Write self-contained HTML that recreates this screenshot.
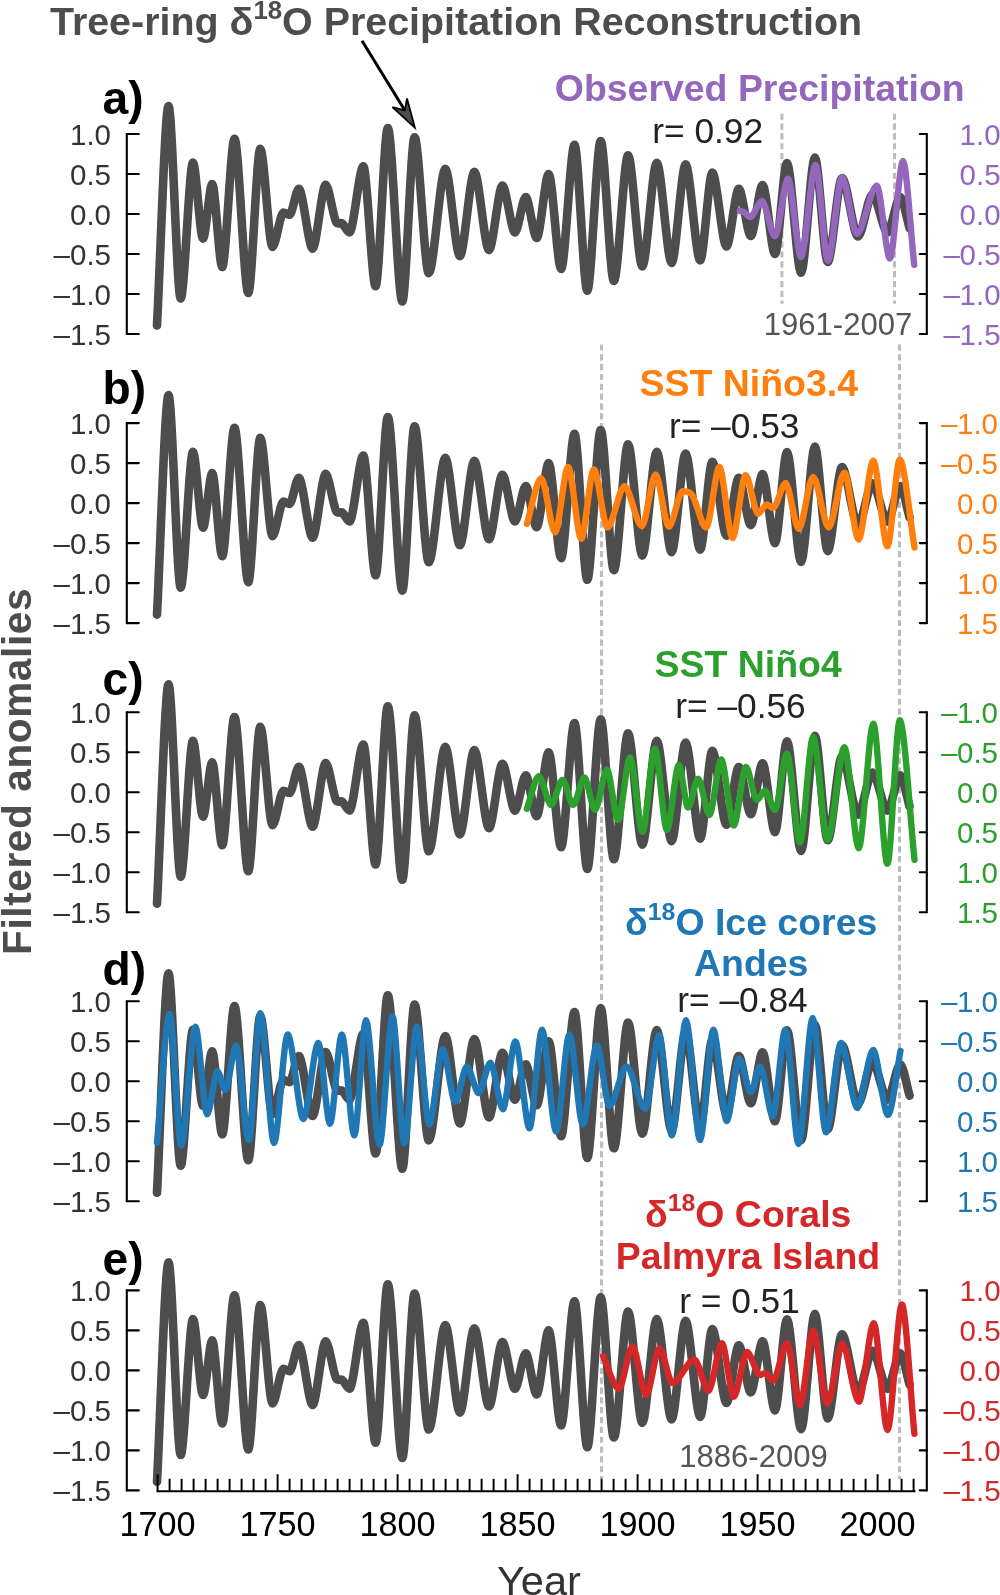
<!DOCTYPE html><html><head><meta charset="utf-8"><style>
html,body{margin:0;padding:0;background:#fff;width:1000px;height:1595px;overflow:hidden}
svg{display:block;will-change:transform}
text{font-family:"Liberation Sans", sans-serif}
</style></head><body>
<svg width="1000" height="1595" viewBox="0 0 1000 1595">
<rect width="1000" height="1595" fill="#fff"/>
<text x="50" y="35" font-size="39.4" font-weight="bold" fill="#4d4d4d">Tree-ring &#948;<tspan font-size="25.8" dy="-16.5">18</tspan><tspan dy="16.5">O Precipitation Reconstruction</tspan></text>
<line x1="362" y1="40.8" x2="404" y2="109" stroke="#000" stroke-width="3"/>
<path d="M414.8 127.6 L392.4 107.2 L404.8 110.4 L407 98.4 Z" fill="#4d4d4d" stroke="#000" stroke-width="1.8" stroke-linejoin="miter"/>
<path d="M126.8 134.0 V334.0" stroke="#000" stroke-width="2.1" stroke-linecap="round"/>
<path d="M126.8 134.0 H138.8" stroke="#000" stroke-width="2.1" stroke-linecap="round"/>
<path d="M126.8 174.0 H138.8" stroke="#000" stroke-width="2.1" stroke-linecap="round"/>
<path d="M126.8 214.0 H138.8" stroke="#000" stroke-width="2.1" stroke-linecap="round"/>
<path d="M126.8 254.0 H138.8" stroke="#000" stroke-width="2.1" stroke-linecap="round"/>
<path d="M126.8 294.0 H138.8" stroke="#000" stroke-width="2.1" stroke-linecap="round"/>
<path d="M126.8 334.0 H138.8" stroke="#000" stroke-width="2.1" stroke-linecap="round"/>
<text x="111" y="144.5" font-size="29.5" fill="#333" text-anchor="end">1.0</text>
<text x="111" y="184.5" font-size="29.5" fill="#333" text-anchor="end">0.5</text>
<text x="111" y="224.5" font-size="29.5" fill="#333" text-anchor="end">0.0</text>
<text x="111" y="264.5" font-size="29.5" fill="#333" text-anchor="end">–0.5</text>
<text x="111" y="304.5" font-size="29.5" fill="#333" text-anchor="end">–1.0</text>
<text x="111" y="344.5" font-size="29.5" fill="#333" text-anchor="end">–1.5</text>
<path d="M926.8 134.0 V334.0" stroke="#000" stroke-width="2.1" stroke-linecap="round"/>
<path d="M926.8 134.0 H919.8" stroke="#000" stroke-width="2.1" stroke-linecap="round"/>
<path d="M926.8 174.0 H919.8" stroke="#000" stroke-width="2.1" stroke-linecap="round"/>
<path d="M926.8 214.0 H919.8" stroke="#000" stroke-width="2.1" stroke-linecap="round"/>
<path d="M926.8 254.0 H919.8" stroke="#000" stroke-width="2.1" stroke-linecap="round"/>
<path d="M926.8 294.0 H919.8" stroke="#000" stroke-width="2.1" stroke-linecap="round"/>
<path d="M926.8 334.0 H919.8" stroke="#000" stroke-width="2.1" stroke-linecap="round"/>
<text x="959.6" y="144.5" font-size="29.5" fill="#9467bd">1.0</text>
<text x="959.6" y="184.5" font-size="29.5" fill="#9467bd">0.5</text>
<text x="959.6" y="224.5" font-size="29.5" fill="#9467bd">0.0</text>
<text x="943.6" y="264.5" font-size="29.5" fill="#9467bd">&#8211;</text>
<text x="959.6" y="264.5" font-size="29.5" fill="#9467bd">0.5</text>
<text x="943.6" y="304.5" font-size="29.5" fill="#9467bd">&#8211;</text>
<text x="959.6" y="304.5" font-size="29.5" fill="#9467bd">1.0</text>
<text x="943.6" y="344.5" font-size="29.5" fill="#9467bd">&#8211;</text>
<text x="959.6" y="344.5" font-size="29.5" fill="#9467bd">1.5</text>
<text x="102.6" y="114.4" font-size="46.2" font-weight="bold" fill="#000">a)</text>
<path d="M126.8 423.1 V623.1" stroke="#000" stroke-width="2.1" stroke-linecap="round"/>
<path d="M126.8 423.1 H138.8" stroke="#000" stroke-width="2.1" stroke-linecap="round"/>
<path d="M126.8 463.1 H138.8" stroke="#000" stroke-width="2.1" stroke-linecap="round"/>
<path d="M126.8 503.1 H138.8" stroke="#000" stroke-width="2.1" stroke-linecap="round"/>
<path d="M126.8 543.1 H138.8" stroke="#000" stroke-width="2.1" stroke-linecap="round"/>
<path d="M126.8 583.1 H138.8" stroke="#000" stroke-width="2.1" stroke-linecap="round"/>
<path d="M126.8 623.1 H138.8" stroke="#000" stroke-width="2.1" stroke-linecap="round"/>
<text x="111" y="433.6" font-size="29.5" fill="#333" text-anchor="end">1.0</text>
<text x="111" y="473.6" font-size="29.5" fill="#333" text-anchor="end">0.5</text>
<text x="111" y="513.6" font-size="29.5" fill="#333" text-anchor="end">0.0</text>
<text x="111" y="553.6" font-size="29.5" fill="#333" text-anchor="end">–0.5</text>
<text x="111" y="593.6" font-size="29.5" fill="#333" text-anchor="end">–1.0</text>
<text x="111" y="633.6" font-size="29.5" fill="#333" text-anchor="end">–1.5</text>
<path d="M926.8 423.1 V623.1" stroke="#000" stroke-width="2.1" stroke-linecap="round"/>
<path d="M926.8 423.1 H919.8" stroke="#000" stroke-width="2.1" stroke-linecap="round"/>
<path d="M926.8 463.1 H919.8" stroke="#000" stroke-width="2.1" stroke-linecap="round"/>
<path d="M926.8 503.1 H919.8" stroke="#000" stroke-width="2.1" stroke-linecap="round"/>
<path d="M926.8 543.1 H919.8" stroke="#000" stroke-width="2.1" stroke-linecap="round"/>
<path d="M926.8 583.1 H919.8" stroke="#000" stroke-width="2.1" stroke-linecap="round"/>
<path d="M926.8 623.1 H919.8" stroke="#000" stroke-width="2.1" stroke-linecap="round"/>
<text x="940.9" y="433.6" font-size="29.5" fill="#ff7f0e">&#8211;</text>
<text x="957.0" y="433.6" font-size="29.5" fill="#ff7f0e">1.0</text>
<text x="940.9" y="473.6" font-size="29.5" fill="#ff7f0e">&#8211;</text>
<text x="957.0" y="473.6" font-size="29.5" fill="#ff7f0e">0.5</text>
<text x="957.0" y="513.6" font-size="29.5" fill="#ff7f0e">0.0</text>
<text x="957.0" y="553.6" font-size="29.5" fill="#ff7f0e">0.5</text>
<text x="957.0" y="593.6" font-size="29.5" fill="#ff7f0e">1.0</text>
<text x="957.0" y="633.6" font-size="29.5" fill="#ff7f0e">1.5</text>
<text x="102.6" y="404.4" font-size="46.2" font-weight="bold" fill="#000">b)</text>
<path d="M126.8 712.2 V912.2" stroke="#000" stroke-width="2.1" stroke-linecap="round"/>
<path d="M126.8 712.2 H138.8" stroke="#000" stroke-width="2.1" stroke-linecap="round"/>
<path d="M126.8 752.2 H138.8" stroke="#000" stroke-width="2.1" stroke-linecap="round"/>
<path d="M126.8 792.2 H138.8" stroke="#000" stroke-width="2.1" stroke-linecap="round"/>
<path d="M126.8 832.2 H138.8" stroke="#000" stroke-width="2.1" stroke-linecap="round"/>
<path d="M126.8 872.2 H138.8" stroke="#000" stroke-width="2.1" stroke-linecap="round"/>
<path d="M126.8 912.2 H138.8" stroke="#000" stroke-width="2.1" stroke-linecap="round"/>
<text x="111" y="722.7" font-size="29.5" fill="#333" text-anchor="end">1.0</text>
<text x="111" y="762.7" font-size="29.5" fill="#333" text-anchor="end">0.5</text>
<text x="111" y="802.7" font-size="29.5" fill="#333" text-anchor="end">0.0</text>
<text x="111" y="842.7" font-size="29.5" fill="#333" text-anchor="end">–0.5</text>
<text x="111" y="882.7" font-size="29.5" fill="#333" text-anchor="end">–1.0</text>
<text x="111" y="922.7" font-size="29.5" fill="#333" text-anchor="end">–1.5</text>
<path d="M926.8 712.2 V912.2" stroke="#000" stroke-width="2.1" stroke-linecap="round"/>
<path d="M926.8 712.2 H919.8" stroke="#000" stroke-width="2.1" stroke-linecap="round"/>
<path d="M926.8 752.2 H919.8" stroke="#000" stroke-width="2.1" stroke-linecap="round"/>
<path d="M926.8 792.2 H919.8" stroke="#000" stroke-width="2.1" stroke-linecap="round"/>
<path d="M926.8 832.2 H919.8" stroke="#000" stroke-width="2.1" stroke-linecap="round"/>
<path d="M926.8 872.2 H919.8" stroke="#000" stroke-width="2.1" stroke-linecap="round"/>
<path d="M926.8 912.2 H919.8" stroke="#000" stroke-width="2.1" stroke-linecap="round"/>
<text x="940.9" y="722.7" font-size="29.5" fill="#2ca02c">&#8211;</text>
<text x="957.0" y="722.7" font-size="29.5" fill="#2ca02c">1.0</text>
<text x="940.9" y="762.7" font-size="29.5" fill="#2ca02c">&#8211;</text>
<text x="957.0" y="762.7" font-size="29.5" fill="#2ca02c">0.5</text>
<text x="957.0" y="802.7" font-size="29.5" fill="#2ca02c">0.0</text>
<text x="957.0" y="842.7" font-size="29.5" fill="#2ca02c">0.5</text>
<text x="957.0" y="882.7" font-size="29.5" fill="#2ca02c">1.0</text>
<text x="957.0" y="922.7" font-size="29.5" fill="#2ca02c">1.5</text>
<text x="102.6" y="694.9" font-size="46.2" font-weight="bold" fill="#000">c)</text>
<path d="M126.8 1001.3 V1201.3" stroke="#000" stroke-width="2.1" stroke-linecap="round"/>
<path d="M126.8 1001.3 H138.8" stroke="#000" stroke-width="2.1" stroke-linecap="round"/>
<path d="M126.8 1041.3 H138.8" stroke="#000" stroke-width="2.1" stroke-linecap="round"/>
<path d="M126.8 1081.3 H138.8" stroke="#000" stroke-width="2.1" stroke-linecap="round"/>
<path d="M126.8 1121.3 H138.8" stroke="#000" stroke-width="2.1" stroke-linecap="round"/>
<path d="M126.8 1161.3 H138.8" stroke="#000" stroke-width="2.1" stroke-linecap="round"/>
<path d="M126.8 1201.3 H138.8" stroke="#000" stroke-width="2.1" stroke-linecap="round"/>
<text x="111" y="1011.8" font-size="29.5" fill="#333" text-anchor="end">1.0</text>
<text x="111" y="1051.8" font-size="29.5" fill="#333" text-anchor="end">0.5</text>
<text x="111" y="1091.8" font-size="29.5" fill="#333" text-anchor="end">0.0</text>
<text x="111" y="1131.8" font-size="29.5" fill="#333" text-anchor="end">–0.5</text>
<text x="111" y="1171.8" font-size="29.5" fill="#333" text-anchor="end">–1.0</text>
<text x="111" y="1211.8" font-size="29.5" fill="#333" text-anchor="end">–1.5</text>
<path d="M926.8 1001.3 V1201.3" stroke="#000" stroke-width="2.1" stroke-linecap="round"/>
<path d="M926.8 1001.3 H919.8" stroke="#000" stroke-width="2.1" stroke-linecap="round"/>
<path d="M926.8 1041.3 H919.8" stroke="#000" stroke-width="2.1" stroke-linecap="round"/>
<path d="M926.8 1081.3 H919.8" stroke="#000" stroke-width="2.1" stroke-linecap="round"/>
<path d="M926.8 1121.3 H919.8" stroke="#000" stroke-width="2.1" stroke-linecap="round"/>
<path d="M926.8 1161.3 H919.8" stroke="#000" stroke-width="2.1" stroke-linecap="round"/>
<path d="M926.8 1201.3 H919.8" stroke="#000" stroke-width="2.1" stroke-linecap="round"/>
<text x="940.9" y="1011.8" font-size="29.5" fill="#1f77b4">&#8211;</text>
<text x="957.0" y="1011.8" font-size="29.5" fill="#1f77b4">1.0</text>
<text x="940.9" y="1051.8" font-size="29.5" fill="#1f77b4">&#8211;</text>
<text x="957.0" y="1051.8" font-size="29.5" fill="#1f77b4">0.5</text>
<text x="957.0" y="1091.8" font-size="29.5" fill="#1f77b4">0.0</text>
<text x="957.0" y="1131.8" font-size="29.5" fill="#1f77b4">0.5</text>
<text x="957.0" y="1171.8" font-size="29.5" fill="#1f77b4">1.0</text>
<text x="957.0" y="1211.8" font-size="29.5" fill="#1f77b4">1.5</text>
<text x="102.6" y="984.9" font-size="46.2" font-weight="bold" fill="#000">d)</text>
<path d="M126.8 1290.4 V1490.4" stroke="#000" stroke-width="2.1" stroke-linecap="round"/>
<path d="M126.8 1290.4 H138.8" stroke="#000" stroke-width="2.1" stroke-linecap="round"/>
<path d="M126.8 1330.4 H138.8" stroke="#000" stroke-width="2.1" stroke-linecap="round"/>
<path d="M126.8 1370.4 H138.8" stroke="#000" stroke-width="2.1" stroke-linecap="round"/>
<path d="M126.8 1410.4 H138.8" stroke="#000" stroke-width="2.1" stroke-linecap="round"/>
<path d="M126.8 1450.4 H138.8" stroke="#000" stroke-width="2.1" stroke-linecap="round"/>
<path d="M126.8 1490.4 H138.8" stroke="#000" stroke-width="2.1" stroke-linecap="round"/>
<text x="111" y="1300.9" font-size="29.5" fill="#333" text-anchor="end">1.0</text>
<text x="111" y="1340.9" font-size="29.5" fill="#333" text-anchor="end">0.5</text>
<text x="111" y="1380.9" font-size="29.5" fill="#333" text-anchor="end">0.0</text>
<text x="111" y="1420.9" font-size="29.5" fill="#333" text-anchor="end">–0.5</text>
<text x="111" y="1460.9" font-size="29.5" fill="#333" text-anchor="end">–1.0</text>
<text x="111" y="1500.9" font-size="29.5" fill="#333" text-anchor="end">–1.5</text>
<path d="M926.8 1290.4 V1490.4" stroke="#000" stroke-width="2.1" stroke-linecap="round"/>
<path d="M926.8 1290.4 H919.8" stroke="#000" stroke-width="2.1" stroke-linecap="round"/>
<path d="M926.8 1330.4 H919.8" stroke="#000" stroke-width="2.1" stroke-linecap="round"/>
<path d="M926.8 1370.4 H919.8" stroke="#000" stroke-width="2.1" stroke-linecap="round"/>
<path d="M926.8 1410.4 H919.8" stroke="#000" stroke-width="2.1" stroke-linecap="round"/>
<path d="M926.8 1450.4 H919.8" stroke="#000" stroke-width="2.1" stroke-linecap="round"/>
<path d="M926.8 1490.4 H919.8" stroke="#000" stroke-width="2.1" stroke-linecap="round"/>
<text x="959.6" y="1300.9" font-size="29.5" fill="#d62728">1.0</text>
<text x="959.6" y="1340.9" font-size="29.5" fill="#d62728">0.5</text>
<text x="959.6" y="1380.9" font-size="29.5" fill="#d62728">0.0</text>
<text x="943.6" y="1420.9" font-size="29.5" fill="#d62728">&#8211;</text>
<text x="959.6" y="1420.9" font-size="29.5" fill="#d62728">0.5</text>
<text x="943.6" y="1460.9" font-size="29.5" fill="#d62728">&#8211;</text>
<text x="959.6" y="1460.9" font-size="29.5" fill="#d62728">1.0</text>
<text x="943.6" y="1500.9" font-size="29.5" fill="#d62728">&#8211;</text>
<text x="959.6" y="1500.9" font-size="29.5" fill="#d62728">1.5</text>
<text x="102.6" y="1275.3" font-size="46.2" font-weight="bold" fill="#000">e)</text>
<path d="M781.9 113.65 V303.7" stroke="#bdbdbd" stroke-width="3.1" stroke-dasharray="6.2 3.64"/>
<path d="M894.5 113.65 V303.7" stroke="#bdbdbd" stroke-width="3.1" stroke-dasharray="6.2 3.64"/>
<path d="M601.5 344.4 V1479" stroke="#bdbdbd" stroke-width="3.1" stroke-dasharray="6.2 3.64"/>
<path d="M899.5 344.4 V1479" stroke="#bdbdbd" stroke-width="3.1" stroke-dasharray="6.2 3.64"/>
<text transform="translate(30.8,955) rotate(-90)" font-size="40.6" letter-spacing="0.6" font-weight="bold" fill="#4d4d4d">Filtered anomalies</text>
<path d="M157.0 325.5C160.4 259.6 165.1 106.0 168.5 106.0C172.2 106.0 177.0 298.5 180.7 298.5C184.4 298.5 189.3 162.6 193.0 162.6C196.0 162.6 200.0 238.6 203.0 238.6C205.8 238.6 209.4 184.0 212.2 184.0C215.2 184.0 219.2 267.0 222.2 267.0C225.9 267.0 230.8 138.8 234.5 138.8C238.6 138.8 244.2 293.0 248.3 293.0C251.9 293.0 256.7 148.7 260.3 148.7C264.0 148.7 268.8 247.0 272.5 247.0C275.8 247.0 280.1 212.5 283.4 212.5C285.3 212.5 287.7 214.8 289.6 214.8C292.4 214.8 296.0 188.7 298.8 188.7C302.9 188.7 308.5 248.6 312.6 248.6C316.5 248.6 321.8 184.8 325.7 184.8C328.9 184.8 333.2 217.9 336.4 222.5C338.0 224.8 340.2 222.5 341.8 223.2C344.1 224.2 347.2 232.4 349.5 232.4C353.6 232.4 359.2 166.4 363.3 166.4C367.0 166.4 371.9 286.2 375.6 286.2C379.3 286.2 384.1 128.0 387.8 128.0C392.2 128.0 397.9 301.5 402.3 301.5C406.0 301.5 410.9 137.2 414.6 137.2C418.9 137.2 424.5 273.1 428.8 273.1C433.8 273.1 440.4 168.7 445.3 168.7C449.7 168.7 455.5 256.2 459.9 256.2C464.2 256.2 470.0 171.8 474.4 171.8C478.8 171.8 484.6 250.1 489.0 250.1C493.0 250.1 498.4 185.6 502.4 185.6C506.2 185.6 511.2 232.4 515.0 232.4C518.2 232.4 522.5 197.0 525.7 197.0C529.0 197.0 533.4 238.0 536.7 238.0C540.3 238.0 545.1 174.0 548.7 174.0C552.4 174.0 557.4 269.0 561.1 269.0C565.1 269.0 570.5 144.8 574.5 144.8C578.3 144.8 583.5 290.7 587.3 290.7C591.3 290.7 596.7 141.0 600.7 141.0C604.7 141.0 609.9 281.0 613.9 281.0C618.2 281.0 623.8 155.2 628.1 155.2C632.4 155.2 638.0 266.5 642.3 266.5C646.6 266.5 652.4 162.7 656.8 162.7C661.2 162.7 667.2 263.0 671.6 263.0C675.8 263.0 681.4 164.4 685.6 164.4C690.0 164.4 695.8 260.5 700.2 260.5C703.8 260.5 708.7 172.6 712.3 172.6C716.6 172.6 722.2 246.5 726.5 246.5C730.2 246.5 735.1 188.8 738.8 188.8C742.4 188.8 747.2 236.0 750.8 236.0C754.3 236.0 759.1 185.0 762.6 185.0C766.3 185.0 771.3 254.0 775.0 254.0C778.6 254.0 783.4 163.0 787.0 163.0C791.2 163.0 796.9 272.8 801.1 272.8C805.2 272.8 810.8 157.5 814.9 157.5C818.7 157.5 823.9 262.0 827.7 262.0C832.0 262.0 837.7 178.0 842.0 178.0C846.8 178.0 853.2 236.5 858.0 236.5C862.4 236.5 868.1 194.3 872.5 194.3C877.0 194.3 883.0 232.5 887.5 232.5C891.3 232.5 896.4 197.0 900.2 197.0C903.0 197.0 906.8 218.9 909.6 228.3" fill="none" stroke="#4d4d4d" stroke-width="8.6" stroke-linejoin="round" stroke-linecap="round"/>
<path d="M157.0 614.6C160.4 548.8 165.1 395.1 168.5 395.1C172.2 395.1 177.0 587.6 180.7 587.6C184.4 587.6 189.3 451.7 193.0 451.7C196.0 451.7 200.0 527.7 203.0 527.7C205.8 527.7 209.4 473.1 212.2 473.1C215.2 473.1 219.2 556.1 222.2 556.1C225.9 556.1 230.8 427.9 234.5 427.9C238.6 427.9 244.2 582.1 248.3 582.1C251.9 582.1 256.7 437.8 260.3 437.8C264.0 437.8 268.8 536.1 272.5 536.1C275.8 536.1 280.1 501.6 283.4 501.6C285.3 501.6 287.7 503.9 289.6 503.9C292.4 503.9 296.0 477.8 298.8 477.8C302.9 477.8 308.5 537.7 312.6 537.7C316.5 537.7 321.8 473.9 325.7 473.9C328.9 473.9 333.2 507.0 336.4 511.6C338.0 513.9 340.2 511.6 341.8 512.3C344.1 513.3 347.2 521.5 349.5 521.5C353.6 521.5 359.2 455.5 363.3 455.5C367.0 455.5 371.9 575.3 375.6 575.3C379.3 575.3 384.1 417.1 387.8 417.1C392.2 417.1 397.9 590.6 402.3 590.6C406.0 590.6 410.9 426.3 414.6 426.3C418.9 426.3 424.5 562.2 428.8 562.2C433.8 562.2 440.4 457.8 445.3 457.8C449.7 457.8 455.5 545.3 459.9 545.3C464.2 545.3 470.0 460.9 474.4 460.9C478.8 460.9 484.6 539.2 489.0 539.2C493.0 539.2 498.4 474.7 502.4 474.7C506.2 474.7 511.2 521.5 515.0 521.5C518.2 521.5 522.5 486.1 525.7 486.1C529.0 486.1 533.4 527.1 536.7 527.1C540.3 527.1 545.1 463.1 548.7 463.1C552.4 463.1 557.4 558.1 561.1 558.1C565.1 558.1 570.5 433.9 574.5 433.9C578.3 433.9 583.5 579.8 587.3 579.8C591.3 579.8 596.7 430.1 600.7 430.1C604.7 430.1 609.9 570.1 613.9 570.1C618.2 570.1 623.8 444.3 628.1 444.3C632.4 444.3 638.0 555.6 642.3 555.6C646.6 555.6 652.4 451.8 656.8 451.8C661.2 451.8 667.2 552.1 671.6 552.1C675.8 552.1 681.4 453.5 685.6 453.5C690.0 453.5 695.8 549.6 700.2 549.6C703.8 549.6 708.7 461.7 712.3 461.7C716.6 461.7 722.2 535.6 726.5 535.6C730.2 535.6 735.1 477.9 738.8 477.9C742.4 477.9 747.2 525.1 750.8 525.1C754.3 525.1 759.1 474.1 762.6 474.1C766.3 474.1 771.3 543.1 775.0 543.1C778.6 543.1 783.4 452.1 787.0 452.1C791.2 452.1 796.9 561.9 801.1 561.9C805.2 561.9 810.8 446.6 814.9 446.6C818.7 446.6 823.9 551.1 827.7 551.1C832.0 551.1 837.7 467.1 842.0 467.1C846.8 467.1 853.2 525.6 858.0 525.6C862.4 525.6 868.1 483.4 872.5 483.4C877.0 483.4 883.0 521.6 887.5 521.6C891.3 521.6 896.4 486.1 900.2 486.1C903.0 486.1 906.8 508.0 909.6 517.4" fill="none" stroke="#4d4d4d" stroke-width="8.6" stroke-linejoin="round" stroke-linecap="round"/>
<path d="M157.0 903.7C160.4 837.9 165.1 684.2 168.5 684.2C172.2 684.2 177.0 876.7 180.7 876.7C184.4 876.7 189.3 740.8 193.0 740.8C196.0 740.8 200.0 816.8 203.0 816.8C205.8 816.8 209.4 762.2 212.2 762.2C215.2 762.2 219.2 845.2 222.2 845.2C225.9 845.2 230.8 717.0 234.5 717.0C238.6 717.0 244.2 871.2 248.3 871.2C251.9 871.2 256.7 726.9 260.3 726.9C264.0 726.9 268.8 825.2 272.5 825.2C275.8 825.2 280.1 790.7 283.4 790.7C285.3 790.7 287.7 793.0 289.6 793.0C292.4 793.0 296.0 766.9 298.8 766.9C302.9 766.9 308.5 826.8 312.6 826.8C316.5 826.8 321.8 763.0 325.7 763.0C328.9 763.0 333.2 796.1 336.4 800.7C338.0 803.0 340.2 800.7 341.8 801.4C344.1 802.4 347.2 810.6 349.5 810.6C353.6 810.6 359.2 744.6 363.3 744.6C367.0 744.6 371.9 864.4 375.6 864.4C379.3 864.4 384.1 706.2 387.8 706.2C392.2 706.2 397.9 879.7 402.3 879.7C406.0 879.7 410.9 715.4 414.6 715.4C418.9 715.4 424.5 851.3 428.8 851.3C433.8 851.3 440.4 746.9 445.3 746.9C449.7 746.9 455.5 834.4 459.9 834.4C464.2 834.4 470.0 750.0 474.4 750.0C478.8 750.0 484.6 828.3 489.0 828.3C493.0 828.3 498.4 763.8 502.4 763.8C506.2 763.8 511.2 810.6 515.0 810.6C518.2 810.6 522.5 775.2 525.7 775.2C529.0 775.2 533.4 816.2 536.7 816.2C540.3 816.2 545.1 752.2 548.7 752.2C552.4 752.2 557.4 847.2 561.1 847.2C565.1 847.2 570.5 723.0 574.5 723.0C578.3 723.0 583.5 868.9 587.3 868.9C591.3 868.9 596.7 719.2 600.7 719.2C604.7 719.2 609.9 859.2 613.9 859.2C618.2 859.2 623.8 733.4 628.1 733.4C632.4 733.4 638.0 844.7 642.3 844.7C646.6 844.7 652.4 740.9 656.8 740.9C661.2 740.9 667.2 841.2 671.6 841.2C675.8 841.2 681.4 742.6 685.6 742.6C690.0 742.6 695.8 838.7 700.2 838.7C703.8 838.7 708.7 750.8 712.3 750.8C716.6 750.8 722.2 824.7 726.5 824.7C730.2 824.7 735.1 767.0 738.8 767.0C742.4 767.0 747.2 814.2 750.8 814.2C754.3 814.2 759.1 763.2 762.6 763.2C766.3 763.2 771.3 832.2 775.0 832.2C778.6 832.2 783.4 741.2 787.0 741.2C791.2 741.2 796.9 851.0 801.1 851.0C805.2 851.0 810.8 735.7 814.9 735.7C818.7 735.7 823.9 840.2 827.7 840.2C832.0 840.2 837.7 756.2 842.0 756.2C846.8 756.2 853.2 814.7 858.0 814.7C862.4 814.7 868.1 772.5 872.5 772.5C877.0 772.5 883.0 810.7 887.5 810.7C891.3 810.7 896.4 775.2 900.2 775.2C903.0 775.2 906.8 797.1 909.6 806.5" fill="none" stroke="#4d4d4d" stroke-width="8.6" stroke-linejoin="round" stroke-linecap="round"/>
<path d="M157.0 1192.8C160.4 1127.0 165.1 973.3 168.5 973.3C172.2 973.3 177.0 1165.8 180.7 1165.8C184.4 1165.8 189.3 1029.9 193.0 1029.9C196.0 1029.9 200.0 1105.9 203.0 1105.9C205.8 1105.9 209.4 1051.3 212.2 1051.3C215.2 1051.3 219.2 1134.3 222.2 1134.3C225.9 1134.3 230.8 1006.1 234.5 1006.1C238.6 1006.1 244.2 1160.3 248.3 1160.3C251.9 1160.3 256.7 1016.0 260.3 1016.0C264.0 1016.0 268.8 1114.3 272.5 1114.3C275.8 1114.3 280.1 1079.8 283.4 1079.8C285.3 1079.8 287.7 1082.1 289.6 1082.1C292.4 1082.1 296.0 1056.0 298.8 1056.0C302.9 1056.0 308.5 1115.9 312.6 1115.9C316.5 1115.9 321.8 1052.1 325.7 1052.1C328.9 1052.1 333.2 1085.2 336.4 1089.8C338.0 1092.1 340.2 1089.8 341.8 1090.5C344.1 1091.5 347.2 1099.7 349.5 1099.7C353.6 1099.7 359.2 1033.7 363.3 1033.7C367.0 1033.7 371.9 1153.5 375.6 1153.5C379.3 1153.5 384.1 995.3 387.8 995.3C392.2 995.3 397.9 1168.8 402.3 1168.8C406.0 1168.8 410.9 1004.5 414.6 1004.5C418.9 1004.5 424.5 1140.4 428.8 1140.4C433.8 1140.4 440.4 1036.0 445.3 1036.0C449.7 1036.0 455.5 1123.5 459.9 1123.5C464.2 1123.5 470.0 1039.1 474.4 1039.1C478.8 1039.1 484.6 1117.4 489.0 1117.4C493.0 1117.4 498.4 1052.9 502.4 1052.9C506.2 1052.9 511.2 1099.7 515.0 1099.7C518.2 1099.7 522.5 1064.3 525.7 1064.3C529.0 1064.3 533.4 1105.3 536.7 1105.3C540.3 1105.3 545.1 1041.3 548.7 1041.3C552.4 1041.3 557.4 1136.3 561.1 1136.3C565.1 1136.3 570.5 1012.1 574.5 1012.1C578.3 1012.1 583.5 1158.0 587.3 1158.0C591.3 1158.0 596.7 1008.3 600.7 1008.3C604.7 1008.3 609.9 1148.3 613.9 1148.3C618.2 1148.3 623.8 1022.5 628.1 1022.5C632.4 1022.5 638.0 1133.8 642.3 1133.8C646.6 1133.8 652.4 1030.0 656.8 1030.0C661.2 1030.0 667.2 1130.3 671.6 1130.3C675.8 1130.3 681.4 1031.7 685.6 1031.7C690.0 1031.7 695.8 1127.8 700.2 1127.8C703.8 1127.8 708.7 1039.9 712.3 1039.9C716.6 1039.9 722.2 1113.8 726.5 1113.8C730.2 1113.8 735.1 1056.1 738.8 1056.1C742.4 1056.1 747.2 1103.3 750.8 1103.3C754.3 1103.3 759.1 1052.3 762.6 1052.3C766.3 1052.3 771.3 1121.3 775.0 1121.3C778.6 1121.3 783.4 1030.3 787.0 1030.3C791.2 1030.3 796.9 1140.1 801.1 1140.1C805.2 1140.1 810.8 1024.8 814.9 1024.8C818.7 1024.8 823.9 1129.3 827.7 1129.3C832.0 1129.3 837.7 1045.3 842.0 1045.3C846.8 1045.3 853.2 1103.8 858.0 1103.8C862.4 1103.8 868.1 1061.6 872.5 1061.6C877.0 1061.6 883.0 1099.8 887.5 1099.8C891.3 1099.8 896.4 1064.3 900.2 1064.3C903.0 1064.3 906.8 1086.2 909.6 1095.6" fill="none" stroke="#4d4d4d" stroke-width="8.6" stroke-linejoin="round" stroke-linecap="round"/>
<path d="M157.0 1481.9C160.4 1416.1 165.1 1262.4 168.5 1262.4C172.2 1262.4 177.0 1454.9 180.7 1454.9C184.4 1454.9 189.3 1319.0 193.0 1319.0C196.0 1319.0 200.0 1395.0 203.0 1395.0C205.8 1395.0 209.4 1340.4 212.2 1340.4C215.2 1340.4 219.2 1423.4 222.2 1423.4C225.9 1423.4 230.8 1295.2 234.5 1295.2C238.6 1295.2 244.2 1449.4 248.3 1449.4C251.9 1449.4 256.7 1305.1 260.3 1305.1C264.0 1305.1 268.8 1403.4 272.5 1403.4C275.8 1403.4 280.1 1368.9 283.4 1368.9C285.3 1368.9 287.7 1371.2 289.6 1371.2C292.4 1371.2 296.0 1345.1 298.8 1345.1C302.9 1345.1 308.5 1405.0 312.6 1405.0C316.5 1405.0 321.8 1341.2 325.7 1341.2C328.9 1341.2 333.2 1374.3 336.4 1378.9C338.0 1381.2 340.2 1378.9 341.8 1379.6C344.1 1380.6 347.2 1388.8 349.5 1388.8C353.6 1388.8 359.2 1322.8 363.3 1322.8C367.0 1322.8 371.9 1442.6 375.6 1442.6C379.3 1442.6 384.1 1284.4 387.8 1284.4C392.2 1284.4 397.9 1457.9 402.3 1457.9C406.0 1457.9 410.9 1293.6 414.6 1293.6C418.9 1293.6 424.5 1429.5 428.8 1429.5C433.8 1429.5 440.4 1325.1 445.3 1325.1C449.7 1325.1 455.5 1412.6 459.9 1412.6C464.2 1412.6 470.0 1328.2 474.4 1328.2C478.8 1328.2 484.6 1406.5 489.0 1406.5C493.0 1406.5 498.4 1342.0 502.4 1342.0C506.2 1342.0 511.2 1388.8 515.0 1388.8C518.2 1388.8 522.5 1353.4 525.7 1353.4C529.0 1353.4 533.4 1394.4 536.7 1394.4C540.3 1394.4 545.1 1330.4 548.7 1330.4C552.4 1330.4 557.4 1425.4 561.1 1425.4C565.1 1425.4 570.5 1301.2 574.5 1301.2C578.3 1301.2 583.5 1447.1 587.3 1447.1C591.3 1447.1 596.7 1297.4 600.7 1297.4C604.7 1297.4 609.9 1437.4 613.9 1437.4C618.2 1437.4 623.8 1311.6 628.1 1311.6C632.4 1311.6 638.0 1422.9 642.3 1422.9C646.6 1422.9 652.4 1319.1 656.8 1319.1C661.2 1319.1 667.2 1419.4 671.6 1419.4C675.8 1419.4 681.4 1320.8 685.6 1320.8C690.0 1320.8 695.8 1416.9 700.2 1416.9C703.8 1416.9 708.7 1329.0 712.3 1329.0C716.6 1329.0 722.2 1402.9 726.5 1402.9C730.2 1402.9 735.1 1345.2 738.8 1345.2C742.4 1345.2 747.2 1392.4 750.8 1392.4C754.3 1392.4 759.1 1341.4 762.6 1341.4C766.3 1341.4 771.3 1410.4 775.0 1410.4C778.6 1410.4 783.4 1319.4 787.0 1319.4C791.2 1319.4 796.9 1429.2 801.1 1429.2C805.2 1429.2 810.8 1313.9 814.9 1313.9C818.7 1313.9 823.9 1418.4 827.7 1418.4C832.0 1418.4 837.7 1334.4 842.0 1334.4C846.8 1334.4 853.2 1392.9 858.0 1392.9C862.4 1392.9 868.1 1350.7 872.5 1350.7C877.0 1350.7 883.0 1388.9 887.5 1388.9C891.3 1388.9 896.4 1353.4 900.2 1353.4C903.0 1353.4 906.8 1375.3 909.6 1384.7" fill="none" stroke="#4d4d4d" stroke-width="8.6" stroke-linejoin="round" stroke-linecap="round"/>
<path d="M739.6 210.9C740.7 211.1 742.3 211.3 743.4 211.7C745.5 212.4 748.2 217.1 750.3 217.1C753.8 217.1 758.4 201.0 761.9 201.0C765.8 201.0 771.0 236.3 774.9 236.3C778.8 236.3 784.1 178.7 788.0 178.7C791.9 178.7 797.1 257.0 801.0 257.0C805.4 257.0 811.2 164.9 815.6 164.9C819.3 164.9 824.2 260.8 827.9 260.8C832.1 260.8 837.8 177.2 842.0 177.2C846.5 177.2 852.4 234.0 856.9 234.0C862.9 234.0 870.8 185.6 876.8 185.6C880.7 185.6 886.0 258.5 889.9 258.5C893.8 258.5 899.1 161.0 903.0 161.0C906.4 161.0 910.8 233.6 914.2 264.7" fill="none" stroke="#9467bd" stroke-width="6.4" stroke-linejoin="round" stroke-linecap="round"/>
<path d="M526.9 523.8C531.2 510.1 536.9 478.1 541.2 478.1C545.4 478.1 550.9 532.5 555.0 532.5C558.9 532.5 564.2 466.9 568.1 466.9C572.0 466.9 577.3 538.8 581.2 538.8C585.0 538.8 590.0 469.4 593.8 469.4C597.9 469.4 603.4 527.5 607.5 527.5C612.6 527.5 619.3 486.2 624.4 486.2C629.6 486.2 636.6 526.2 641.9 526.2C646.0 526.2 651.5 474.4 655.6 474.4C659.5 474.4 664.8 526.9 668.8 526.9C672.9 526.9 678.4 491.2 682.5 491.2C685.1 491.2 688.6 491.3 691.2 493.8C695.8 497.9 701.8 527.5 706.2 527.5C710.2 527.5 715.5 466.9 719.4 466.9C723.3 466.9 728.6 538.1 732.5 538.1C736.4 538.1 741.7 475.3 745.6 475.3C749.4 475.3 754.4 513.8 758.1 513.8C760.7 513.8 764.3 504.4 766.9 504.4C768.8 504.4 771.2 508.1 773.1 508.1C776.9 508.1 781.9 483.1 785.6 483.1C789.5 483.1 794.8 528.8 798.8 528.8C803.1 528.8 808.8 476.9 813.1 476.9C817.8 476.9 824.1 527.5 828.8 527.5C833.4 527.5 839.7 472.7 844.4 472.7C848.7 472.7 854.3 539.5 858.6 539.5C863.0 539.5 868.9 460.6 873.3 460.6C877.5 460.6 883.2 546.4 887.4 546.4C891.1 546.4 896.1 459.5 899.8 459.5C904.2 459.5 910.1 521.1 914.5 547.5" fill="none" stroke="#ff7f0e" stroke-width="6.4" stroke-linejoin="round" stroke-linecap="round"/>
<path d="M526.9 808.8C530.5 799.0 535.2 776.2 538.8 776.2C542.5 776.2 547.5 805.0 551.2 805.0C554.6 805.0 559.1 780.0 562.5 780.0C565.7 780.0 569.9 805.0 573.1 805.0C576.5 805.0 581.0 777.5 584.4 777.5C587.6 777.5 591.8 810.0 595.0 810.0C598.6 810.0 603.3 769.4 606.9 769.4C610.3 769.4 614.7 820.0 618.1 820.0C621.7 820.0 626.4 757.5 630.0 757.5C633.8 757.5 638.8 831.9 642.5 831.9C646.2 831.9 651.2 748.8 655.0 748.8C658.6 748.8 663.3 830.0 666.9 830.0C670.5 830.0 675.2 765.0 678.8 765.0C681.6 765.0 685.3 807.5 688.1 807.5C691.1 807.5 695.1 778.8 698.1 778.8C701.5 778.8 706.0 815.0 709.4 815.0C713.0 815.0 717.7 759.4 721.2 759.4C725.0 759.4 730.0 825.6 733.8 825.6C737.4 825.6 742.3 767.0 746.0 767.0C749.3 767.0 753.6 800.0 756.9 800.0C759.3 800.0 762.6 790.6 765.0 790.6C768.0 790.6 772.0 810.0 775.0 810.0C778.6 810.0 783.3 753.8 786.9 753.8C790.8 753.8 796.1 842.5 800.0 842.5C803.9 842.5 809.2 736.9 813.1 736.9C817.4 736.9 823.2 840.0 827.5 840.0C832.6 840.0 839.3 747.2 844.4 747.2C848.7 747.2 854.4 848.3 858.7 848.3C863.1 848.3 868.9 723.7 873.3 723.7C877.5 723.7 883.2 863.7 887.4 863.7C891.1 863.7 896.1 720.3 899.8 720.3C904.2 720.3 910.1 817.9 914.5 859.7" fill="none" stroke="#2ca02c" stroke-width="6.4" stroke-linejoin="round" stroke-linecap="round"/>
<path d="M157.0 1142.5C160.8 1104.0 165.8 1014.0 169.6 1014.0C173.1 1014.0 177.8 1145.6 181.3 1145.6C185.5 1145.6 191.2 1026.6 195.4 1026.6C198.9 1026.6 203.7 1114.3 207.2 1114.3C210.3 1114.3 214.3 1071.2 217.4 1071.2C219.7 1071.2 222.9 1090.0 225.2 1090.0C228.5 1090.0 232.9 1045.4 236.2 1045.4C239.9 1045.4 244.9 1140.1 248.7 1140.1C252.2 1140.1 256.9 1013.3 260.4 1013.3C264.5 1013.3 269.9 1143.0 274.0 1143.0C278.1 1143.0 283.6 1034.4 287.7 1034.4C292.4 1034.4 298.7 1119.0 303.4 1119.0C307.9 1119.0 313.8 1043.0 318.3 1043.0C321.8 1043.0 326.5 1123.7 330.0 1123.7C333.5 1123.7 338.3 1034.4 341.8 1034.4C345.6 1034.4 350.6 1135.4 354.3 1135.4C357.8 1135.4 362.5 1020.3 366.0 1020.3C370.1 1020.3 375.4 1144.8 379.5 1144.8C383.4 1144.8 388.6 1016.4 392.5 1016.4C396.0 1016.4 400.8 1143.3 404.3 1143.3C408.1 1143.3 413.1 1026.6 416.8 1026.6C420.6 1026.6 425.6 1124.5 429.3 1124.5C433.3 1124.5 438.7 1049.3 442.7 1049.3C446.4 1049.3 451.4 1101.8 455.2 1101.8C458.7 1101.8 463.4 1066.5 466.9 1066.5C470.4 1066.5 475.2 1093.1 478.7 1093.1C482.2 1093.1 486.9 1062.6 490.4 1062.6C494.1 1062.6 499.1 1109.2 502.9 1109.2C506.6 1109.2 511.6 1041.5 515.4 1041.5C519.6 1041.5 525.3 1128.4 529.5 1128.4C533.2 1128.4 538.2 1029.7 542.0 1029.7C546.2 1029.7 551.9 1131.5 556.1 1131.5C560.1 1131.5 565.4 1034.4 569.4 1034.4C573.4 1034.4 578.7 1124.5 582.7 1124.5C586.9 1124.5 592.6 1045.4 596.8 1045.4C600.6 1045.4 605.7 1106.0 609.5 1106.0C614.6 1106.0 621.3 1066.5 626.4 1066.5C632.0 1066.5 639.6 1108.8 645.2 1108.8C649.4 1108.8 655.1 1035.2 659.3 1035.2C663.1 1035.2 668.1 1135.4 671.9 1135.4C676.1 1135.4 681.8 1020.3 686.0 1020.3C690.2 1020.3 695.8 1140.1 700.0 1140.1C704.0 1140.1 709.4 1029.7 713.4 1029.7C717.4 1029.7 722.7 1121.0 726.7 1121.0C730.4 1121.0 735.4 1058.7 739.1 1058.7C742.6 1058.7 747.3 1092.4 750.8 1092.4C753.6 1092.4 757.4 1066.5 760.2 1066.5C764.0 1066.5 769.0 1116.6 772.8 1116.6C776.5 1116.6 781.5 1029.7 785.3 1029.7C789.3 1029.7 794.6 1144.0 798.6 1144.0C802.8 1144.0 808.5 1018.0 812.7 1018.0C816.7 1018.0 822.0 1132.3 826.0 1132.3C830.5 1132.3 836.5 1043.0 841.0 1043.0C845.9 1043.0 852.5 1108.0 857.4 1108.0C862.1 1108.0 868.4 1050.0 873.1 1050.0C877.6 1050.0 883.5 1115.0 888.0 1115.0C891.8 1115.0 896.8 1070.1 900.5 1050.9" fill="none" stroke="#1f77b4" stroke-width="6.4" stroke-linejoin="round" stroke-linecap="round"/>
<path d="M603.1 1356.2C607.8 1366.0 614.1 1388.8 618.8 1388.8C622.9 1388.8 628.4 1346.2 632.5 1346.2C636.6 1346.2 642.1 1395.0 646.2 1395.0C650.2 1395.0 655.5 1348.1 659.4 1348.1C663.3 1348.1 668.6 1383.1 672.5 1383.1C679.1 1383.1 687.8 1359.4 694.4 1359.4C698.6 1359.4 704.3 1391.0 708.5 1391.0C712.5 1391.0 717.9 1343.1 721.9 1343.1C725.5 1343.1 730.2 1396.9 733.8 1396.9C737.7 1396.9 743.0 1351.9 746.9 1351.9C750.8 1351.9 756.1 1375.0 760.0 1375.0C761.5 1375.0 763.5 1373.1 765.0 1373.1C767.4 1373.1 770.7 1380.6 773.1 1380.6C777.2 1380.6 782.8 1343.1 786.9 1343.1C790.8 1343.1 796.1 1405.0 800.0 1405.0C803.9 1405.0 809.2 1330.6 813.1 1330.6C817.3 1330.6 823.0 1403.5 827.2 1403.5C831.8 1403.5 837.9 1343.8 842.5 1343.8C847.4 1343.8 853.9 1401.9 858.8 1401.9C863.2 1401.9 869.2 1323.1 873.8 1323.1C877.9 1323.1 883.4 1430.0 887.5 1430.0C891.8 1430.0 897.6 1304.4 901.9 1304.4C905.6 1304.4 910.6 1394.9 914.4 1433.8" fill="none" stroke="#d62728" stroke-width="6.4" stroke-linejoin="round" stroke-linecap="round"/>
<path d="M156.5 1491.3 H915.5" stroke="#000" stroke-width="2"/>
<path d="M157.6 1491.3 V1474.3" stroke="#000" stroke-width="2"/>
<path d="M169.6 1491.3 V1478.8" stroke="#000" stroke-width="2"/>
<path d="M181.6 1491.3 V1478.8" stroke="#000" stroke-width="2"/>
<path d="M193.6 1491.3 V1478.8" stroke="#000" stroke-width="2"/>
<path d="M205.6 1491.3 V1478.8" stroke="#000" stroke-width="2"/>
<path d="M217.6 1491.3 V1478.8" stroke="#000" stroke-width="2"/>
<path d="M229.6 1491.3 V1478.8" stroke="#000" stroke-width="2"/>
<path d="M241.6 1491.3 V1478.8" stroke="#000" stroke-width="2"/>
<path d="M253.6 1491.3 V1478.8" stroke="#000" stroke-width="2"/>
<path d="M265.6 1491.3 V1478.8" stroke="#000" stroke-width="2"/>
<path d="M277.6 1491.3 V1474.3" stroke="#000" stroke-width="2"/>
<path d="M289.6 1491.3 V1478.8" stroke="#000" stroke-width="2"/>
<path d="M301.6 1491.3 V1478.8" stroke="#000" stroke-width="2"/>
<path d="M313.6 1491.3 V1478.8" stroke="#000" stroke-width="2"/>
<path d="M325.6 1491.3 V1478.8" stroke="#000" stroke-width="2"/>
<path d="M337.6 1491.3 V1478.8" stroke="#000" stroke-width="2"/>
<path d="M349.6 1491.3 V1478.8" stroke="#000" stroke-width="2"/>
<path d="M361.6 1491.3 V1478.8" stroke="#000" stroke-width="2"/>
<path d="M373.6 1491.3 V1478.8" stroke="#000" stroke-width="2"/>
<path d="M385.6 1491.3 V1478.8" stroke="#000" stroke-width="2"/>
<path d="M397.6 1491.3 V1474.3" stroke="#000" stroke-width="2"/>
<path d="M409.6 1491.3 V1478.8" stroke="#000" stroke-width="2"/>
<path d="M421.6 1491.3 V1478.8" stroke="#000" stroke-width="2"/>
<path d="M433.6 1491.3 V1478.8" stroke="#000" stroke-width="2"/>
<path d="M445.6 1491.3 V1478.8" stroke="#000" stroke-width="2"/>
<path d="M457.6 1491.3 V1478.8" stroke="#000" stroke-width="2"/>
<path d="M469.6 1491.3 V1478.8" stroke="#000" stroke-width="2"/>
<path d="M481.6 1491.3 V1478.8" stroke="#000" stroke-width="2"/>
<path d="M493.6 1491.3 V1478.8" stroke="#000" stroke-width="2"/>
<path d="M505.6 1491.3 V1478.8" stroke="#000" stroke-width="2"/>
<path d="M517.6 1491.3 V1474.3" stroke="#000" stroke-width="2"/>
<path d="M529.6 1491.3 V1478.8" stroke="#000" stroke-width="2"/>
<path d="M541.6 1491.3 V1478.8" stroke="#000" stroke-width="2"/>
<path d="M553.6 1491.3 V1478.8" stroke="#000" stroke-width="2"/>
<path d="M565.6 1491.3 V1478.8" stroke="#000" stroke-width="2"/>
<path d="M577.6 1491.3 V1478.8" stroke="#000" stroke-width="2"/>
<path d="M589.6 1491.3 V1478.8" stroke="#000" stroke-width="2"/>
<path d="M601.6 1491.3 V1478.8" stroke="#000" stroke-width="2"/>
<path d="M613.6 1491.3 V1478.8" stroke="#000" stroke-width="2"/>
<path d="M625.6 1491.3 V1478.8" stroke="#000" stroke-width="2"/>
<path d="M637.6 1491.3 V1474.3" stroke="#000" stroke-width="2"/>
<path d="M649.6 1491.3 V1478.8" stroke="#000" stroke-width="2"/>
<path d="M661.6 1491.3 V1478.8" stroke="#000" stroke-width="2"/>
<path d="M673.6 1491.3 V1478.8" stroke="#000" stroke-width="2"/>
<path d="M685.6 1491.3 V1478.8" stroke="#000" stroke-width="2"/>
<path d="M697.6 1491.3 V1478.8" stroke="#000" stroke-width="2"/>
<path d="M709.6 1491.3 V1478.8" stroke="#000" stroke-width="2"/>
<path d="M721.6 1491.3 V1478.8" stroke="#000" stroke-width="2"/>
<path d="M733.6 1491.3 V1478.8" stroke="#000" stroke-width="2"/>
<path d="M745.6 1491.3 V1478.8" stroke="#000" stroke-width="2"/>
<path d="M757.6 1491.3 V1474.3" stroke="#000" stroke-width="2"/>
<path d="M769.6 1491.3 V1478.8" stroke="#000" stroke-width="2"/>
<path d="M781.6 1491.3 V1478.8" stroke="#000" stroke-width="2"/>
<path d="M793.6 1491.3 V1478.8" stroke="#000" stroke-width="2"/>
<path d="M805.6 1491.3 V1478.8" stroke="#000" stroke-width="2"/>
<path d="M817.6 1491.3 V1478.8" stroke="#000" stroke-width="2"/>
<path d="M829.6 1491.3 V1478.8" stroke="#000" stroke-width="2"/>
<path d="M841.6 1491.3 V1478.8" stroke="#000" stroke-width="2"/>
<path d="M853.6 1491.3 V1478.8" stroke="#000" stroke-width="2"/>
<path d="M865.6 1491.3 V1478.8" stroke="#000" stroke-width="2"/>
<path d="M877.6 1491.3 V1474.3" stroke="#000" stroke-width="2"/>
<path d="M889.6 1491.3 V1478.8" stroke="#000" stroke-width="2"/>
<path d="M901.6 1491.3 V1478.8" stroke="#000" stroke-width="2"/>
<path d="M913.6 1491.3 V1478.8" stroke="#000" stroke-width="2"/>
<text x="157.6" y="1536" font-size="34.2" fill="#000" text-anchor="middle">1700</text>
<text x="277.6" y="1536" font-size="34.2" fill="#000" text-anchor="middle">1750</text>
<text x="397.6" y="1536" font-size="34.2" fill="#000" text-anchor="middle">1800</text>
<text x="517.6" y="1536" font-size="34.2" fill="#000" text-anchor="middle">1850</text>
<text x="637.6" y="1536" font-size="34.2" fill="#000" text-anchor="middle">1900</text>
<text x="757.6" y="1536" font-size="34.2" fill="#000" text-anchor="middle">1950</text>
<text x="877.6" y="1536" font-size="34.2" fill="#000" text-anchor="middle">2000</text>
<text x="497" y="1594.8" font-size="41.5" fill="#333">Year</text>
<text x="759.7" y="101.0" font-size="37.45" fill="#9467bd" text-anchor="middle" font-weight="bold">Observed Precipitation</text>
<text x="707.7" y="143.2" font-size="35.3" fill="#222" text-anchor="middle">r= 0.92</text>
<text x="838.0" y="335.1" font-size="31.1" fill="#555" text-anchor="middle">1961-2007</text>
<text x="748.8" y="396.1" font-size="37.45" fill="#ff7f0e" text-anchor="middle" font-weight="bold">SST Ni&#241;o3.4</text>
<text x="734.2" y="438.4" font-size="35.3" fill="#222" text-anchor="middle">r= &#8211;0.53</text>
<text x="748.2" y="677.1" font-size="37.45" fill="#2ca02c" text-anchor="middle" font-weight="bold">SST Ni&#241;o4</text>
<text x="740.5" y="717.6" font-size="35.3" fill="#222" text-anchor="middle">r= &#8211;0.56</text>
<text x="751.2" y="935" font-size="37.45" fill="#1f77b4" text-anchor="middle" font-weight="bold">&#948;<tspan font-size="24.8" dy="-15.5">18</tspan><tspan dy="15.5">O Ice cores</tspan></text>
<text x="751.2" y="976.0" font-size="37.45" fill="#1f77b4" text-anchor="middle" font-weight="bold">Andes</text>
<text x="742.5" y="1012.4" font-size="35.3" fill="#222" text-anchor="middle">r= &#8211;0.84</text>
<text x="748.2" y="1226.5" font-size="37.45" fill="#d62728" text-anchor="middle" font-weight="bold">&#948;<tspan font-size="24.8" dy="-15.5">18</tspan><tspan dy="15.5">O Corals</tspan></text>
<text x="748.0" y="1268.5" font-size="37.45" fill="#d62728" text-anchor="middle" font-weight="bold">Palmyra Island</text>
<text x="739.5" y="1313.0" font-size="35.3" fill="#222" text-anchor="middle">r = 0.51</text>
<text x="753.5" y="1467.0" font-size="31.1" fill="#555" text-anchor="middle">1886-2009</text>
</svg></body></html>
